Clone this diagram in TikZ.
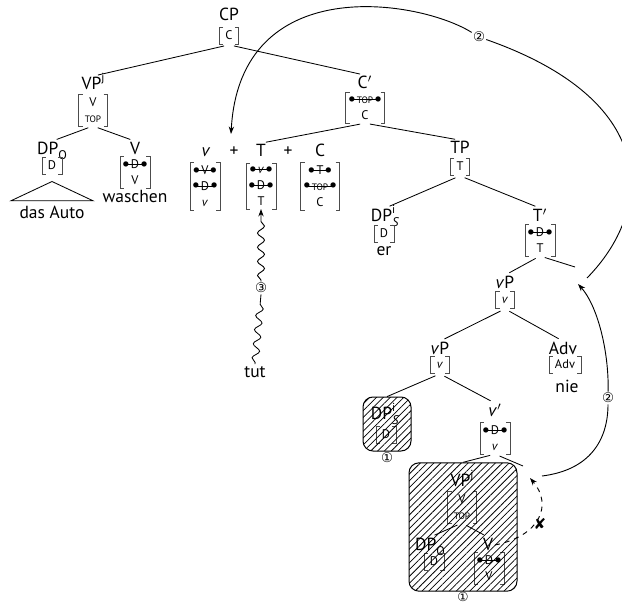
\documentclass[tikz,border=0pt]{standalone}
\usepackage{fontspec}
\setmainfont{PT Sans}
\newfontfamily\dvfont{DejaVu Sans}
\usetikzlibrary{arrows.meta,decorations.pathmorphing,patterns.meta}
\newcommand\ftdot{\makebox[0pt]{$\vcenter{\hbox{\scalebox{1.05}{$\bullet$}}}$}}
\newcommand\sfeat[1]{{\setbox0\hbox{\kern3pt#1\kern3pt}\rlap{\raisebox{0.1em}{\rlap{\rule[\dimexpr0.25em-0.2pt\relax]{\wd0}{0.4pt}}\ftdot\kern\wd0\ftdot}}\box0}}
\newcommand\tp{{\fontsize{5.6}{6}\selectfont TOP}}
\newcommand\ssup[2]{\rlap{\raisebox{0.95ex}{\fontsize{7}{7}\selectfont #1}}\raisebox{-0.5ex}{\fontsize{7.5}{7}\selectfont #2}}
\newcommand\sups[1]{\raisebox{0.95ex}{\fontsize{7}{7}\selectfont #1}}
\newcommand\subs[1]{\raisebox{-0.5ex}{\fontsize{7.5}{7}\selectfont #1}}
\newcommand\brk[1]{\draw[brk] ([xshift=2.2pt]#1.north west) -- (#1.north west) -- (#1.south west) -- ([xshift=2.2pt]#1.south west) ([xshift=-2.2pt]#1.north east) -- (#1.north east) -- (#1.south east) -- ([xshift=-2.2pt]#1.south east);}
\begin{document}
\begin{tikzpicture}[x=0.6pt,y=-0.6pt,
 lab/.style={inner sep=1pt,text height=7pt,text depth=0pt,font=\fontsize{10.5}{12}\selectfont},
 fs/.style={inner xsep=3.4pt,inner ysep=1.8pt,font=\fontsize{7.5}{8}\selectfont,text height=5.2pt,text depth=1.4pt},
 fm/.style={inner xsep=3.4pt,inner ysep=2pt,align=center,font=\fontsize{7.5}{9.5}\selectfont},
 brk/.style={draw=black!70,line width=0.45pt},
 tree/.style={line width=0.5pt,shorten <=3pt,shorten >=3pt},
 treeo/.style={line width=0.5pt,shorten <=3pt},
 hatch/.style={draw,line width=0.6pt,rounded corners=6pt,pattern={Lines[angle=45,distance=2.9pt,line width=0.45pt]}},
 mv/.style={-{Stealth[length=4.5pt,width=3.2pt]},line width=0.55pt},
 circ/.style={font=\dvfont\fontsize{8}{8}\selectfont,inner sep=0.6pt,fill=white},
 wavy/.style={decorate,decoration={snake,amplitude=2.1pt,segment length=8.5pt,pre length=1pt,post length=4pt}},
]
\useasboundingbox (0,0) rectangle (622,603);
% top
\node[lab] (CP) at (229,15) {CP};
\node[fs] (CPf) at (229,36) {C}; \brk{CPf}
% VPj
\node[lab] (VPj) at (93,84) {VP\sups{j}};
\node[fm] (VPjf) at (93,110) {V\\\tp}; \brk{VPjf}
\node[lab] (DPO) at (52,149) {DP\subs{O}};
\node[fs] (DPOf) at (52,166) {D}; \brk{DPOf}
\node[lab] (daz) at (52,213) {das Auto};
\node[lab] (Vw) at (135,149) {V};
\node[fm] (Vwf) at (135,172) {\sfeat{D}\\V}; \brk{Vwf}
\node[lab] (wasch) at (135,197) {waschen};
% C'
\node[lab] (Cbar) at (365,83) {C$'$};
\node[fm] (Cbarf) at (365,108) {\sfeat{\tp}\\C}; \brk{Cbarf}
% complex head
\node[lab] (nv) at (206,151) {\textit{v}};
\node[lab] (pl1) at (234,151) {+};
\node[lab] (nT) at (261,151) {T};
\node[lab] (pl2) at (288,151) {+};
\node[lab] (nC) at (320,151) {C};
\node[fm] (vf) at (205,186) {\sfeat{V}\\\sfeat{D}\\\textit{v}}; \brk{vf}
\node[fm] (Tf) at (261,186) {\sfeat{\textit{v}}\\\sfeat{D}\\T}; \brk{Tf}
\node[fm] (Cf) at (320,186) {\sfeat{T}\\\sfeat{\tp}\\C}; \brk{Cf}
% TP
\node[lab] (TP) at (460,148) {TP};
\node[fs] (TPf) at (460,167) {T}; \brk{TPf}
\node[lab] (DPS) at (385,216) {DP\ssup{i}{\textit{S}}};
\node[fs] (DPSf) at (384,234) {D}; \brk{DPSf}
\node[lab] (er) at (384,250) {er};
\node[lab] (Tbar) at (540,216) {T$'$};
\node[fm] (Tbarf) at (540,240) {\sfeat{D}\\T}; \brk{Tbarf}
\coordinate (t1) at (575,267);
% vP
\node[lab] (vP1) at (505,283) {\textit{v}P};
\node[fs] (vP1f) at (505,300) {\textit{v}}; \brk{vP1f}
\node[lab] (vP2) at (440,349) {\textit{v}P};
\node[fs] (vP2f) at (440,365) {\textit{v}}; \brk{vP2f}
\node[lab] (Adv) at (563,349) {Adv};
\node[fs] (Advf) at (565,365) {Adv}; \brk{Advf}
\node[lab] (nie) at (567,387) {nie};
% lower DP_S copy
\node[lab] (DPS2) at (385,414) {DP\ssup{i}{\textit{S}}};
\node[fs] (DPS2f) at (386,435) {D}; \brk{DPS2f}
\node[hatch,minimum width=28.8pt,minimum height=32.4pt] (box1) at (387,424) {};
\node[circ,fill=none] (c1a) at (387,458) {①};
% v'
\node[lab] (vbar) at (495,411) {\textit{v}$'$};
\node[fm] (vbarf) at (495,438) {\sfeat{D}\\\textit{v}}; \brk{vbarf}
\coordinate (vr) at (523,466);
% lower VP copy
\node[lab] (VPj2) at (462,481) {VP\sups{j}};
\node[fm] (VPj2f) at (462,507) {V\\\tp}; \brk{VPj2f}
\node[lab] (DPO2) at (430,545) {DP\subs{O}};
\node[fs] (DPO2f) at (434,562) {D}; \brk{DPO2f}
\node[lab] (V2) at (488,545) {V};
\node[fm] (V2f) at (489,568) {\sfeat{D}\\V}; \brk{V2f}
\node[hatch,minimum width=64.8pt,minimum height=77pt] (box2) at (463,527) {};
\node[circ,fill=none,font=\dvfont\fontsize{7.5}{7.5}\selectfont] (c1b) at (463,597) {①};
% tut
\node[lab] (tut) at (255,372) {tut};
% tree lines
\draw[tree] (CPf.south) -- (VPj.north);
\draw[tree] (CPf.south) -- (Cbar.north);
\draw[tree] (VPjf.south) -- (DPO.north);
\draw[tree] (VPjf.south) -- (Vw.north);
\draw[line width=0.5pt] ([yshift=-4pt]DPOf.south) -- ([shift={(-4pt,2.6pt)}]daz.north west) -- ([shift={(4pt,2.6pt)}]daz.north east) -- cycle;
\draw[tree] (Cbarf.south) -- (nT.north);
\draw[tree] (Cbarf.south) -- (TP.north);
\draw[tree] (TPf.south) -- (DPS.north);
\draw[tree] (TPf.south) -- (Tbar.north);
\draw[tree] (Tbarf.south) -- (vP1.north);
\draw[treeo] (Tbarf.south) -- (t1);
\draw[tree] (vP1f.south) -- (vP2.north);
\draw[tree] (vP1f.south) -- (Adv.north);
\draw[treeo] (vP2f.south) -- (box1.north);
\draw[tree] (vP2f.south) -- (vbar.north);
\draw[treeo] (vbarf.south) -- (box2.north);
\draw[treeo] (vbarf.south) -- (vr);
\draw[tree] (VPj2f.south) -- (DPO2.north);
\draw[tree] (VPj2f.south) -- (V2.north);
% movement arrows
\coordinate (s2) at (587,278);
\coordinate (e2) at (231,134);
\node[circ] (c2a) at (479,37) {②};
\draw[line width=0.55pt] (s2) .. controls (652,212) and (664,102) .. (c2a);
\draw[mv] (c2a) .. controls (420,0) and (240,-30) .. (e2);
\coordinate (s1) at (542,476);
\coordinate (e1) at (578,284);
\node[circ] (c2b) at (608,398) {②};
\draw[line width=0.55pt] (s1) .. controls (590,470) and (608,440) .. (c2b);
\draw[mv] (c2b) .. controls (609,350) and (597,305) .. (e1);
\coordinate (e3) at (530,478);
\draw[mv,dashed] (V2.east) .. controls (540,536) and (553,505) .. (e3);
\node[font=\dvfont\fontsize{9}{9}\selectfont,inner sep=0pt] (xm) at (540,524) {✘};
\node[circ] (c3) at (261,288) {③};
\draw[line width=0.5pt,wavy] (tut.north) -- (c3.south);
\draw[mv,wavy] (c3.north) -- (Tf.south);
\end{tikzpicture}
\end{document}
